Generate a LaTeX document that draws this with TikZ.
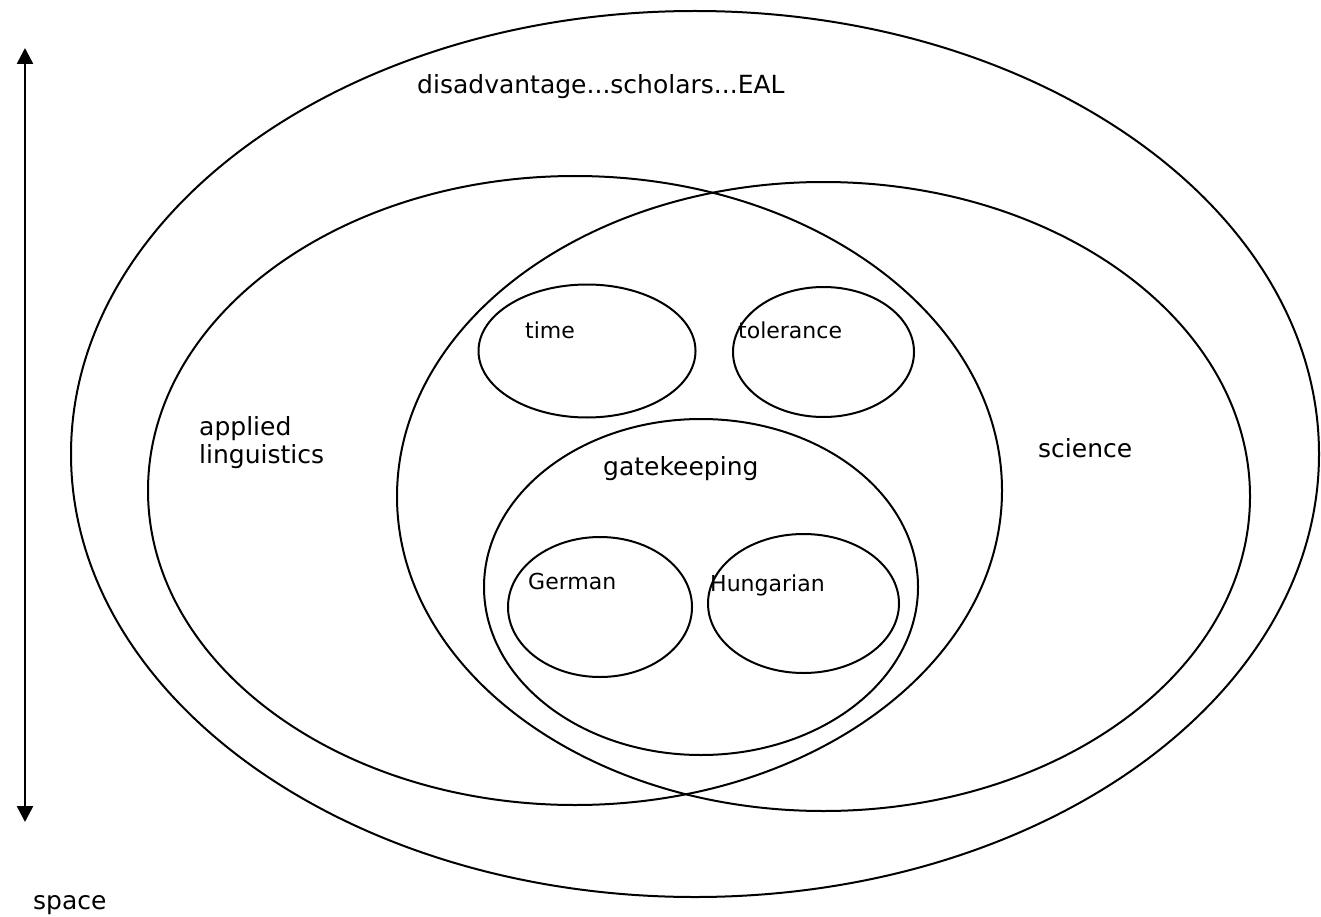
\documentclass[tikz,border=0pt]{standalone}
\usepackage{fontspec}
\setmainfont{DejaVu Sans}
\usetikzlibrary{shapes.geometric,arrows.meta}
\tikzset{
  oval/.style={ellipse, draw, line width=2pt, inner sep=0pt},
  biglabel/.style={anchor=base west, inner sep=0pt, font=\fontsize{25}{28}\selectfont},
  smalllabel/.style={anchor=base west, inner sep=0pt, font=\fontsize{22}{26}\selectfont},
  axis/.style={line width=2.6pt, {Triangle[width=16pt,length=16pt]}-{Triangle[width=16pt,length=16pt]}}
}
\begin{document}
\begin{tikzpicture}[x=1pt,y=-1pt]
\useasboundingbox (0,0) rectangle (1321,917);
% ellipses
\node[oval, minimum width=1248pt, minimum height=886pt] (outer) at (695,454) {};
\node[oval, minimum width=854pt, minimum height=629pt] (al) at (575,490.5) {};
\node[oval, minimum width=853pt, minimum height=629pt] (sci) at (823.5,496.5) {};
\node[oval, minimum width=217pt, minimum height=133pt] (timeov) at (587,351) {};
\node[oval, minimum width=181pt, minimum height=130pt] (tolov) at (823.5,352) {};
\node[oval, minimum width=434pt, minimum height=336pt] (gate) at (701,587) {};
\node[oval, minimum width=184pt, minimum height=140pt] (gerov) at (600,607) {};
\node[oval, minimum width=191pt, minimum height=139pt] (hunov) at (803.5,603.5) {};
% labels
\node[biglabel] (tdis) at (417,94) {disadvantage...scholars...EAL};
\node[biglabel] (tapp) at (199,435) {applied};
\node[biglabel] (tling) at (199,463) {linguistics};
\node[biglabel] (tsci) at (1038,457) {science};
\node[biglabel] (tgate) at (603,475) {gatekeeping};
\node[smalllabel] (ttime) at (525,338) {time};
\node[smalllabel] (ttol) at (738,338) {tolerance};
\node[smalllabel] (tger) at (528,589) {German};
\node[smalllabel] (thun) at (710,591) {Hungarian};
\node[biglabel] (tspace) at (33,909) {space};
% axis arrow
\coordinate (atop) at (25,48);
\coordinate (abot) at (25,822);
\draw[axis] (abot) -- (atop);
\end{tikzpicture}
\end{document}
